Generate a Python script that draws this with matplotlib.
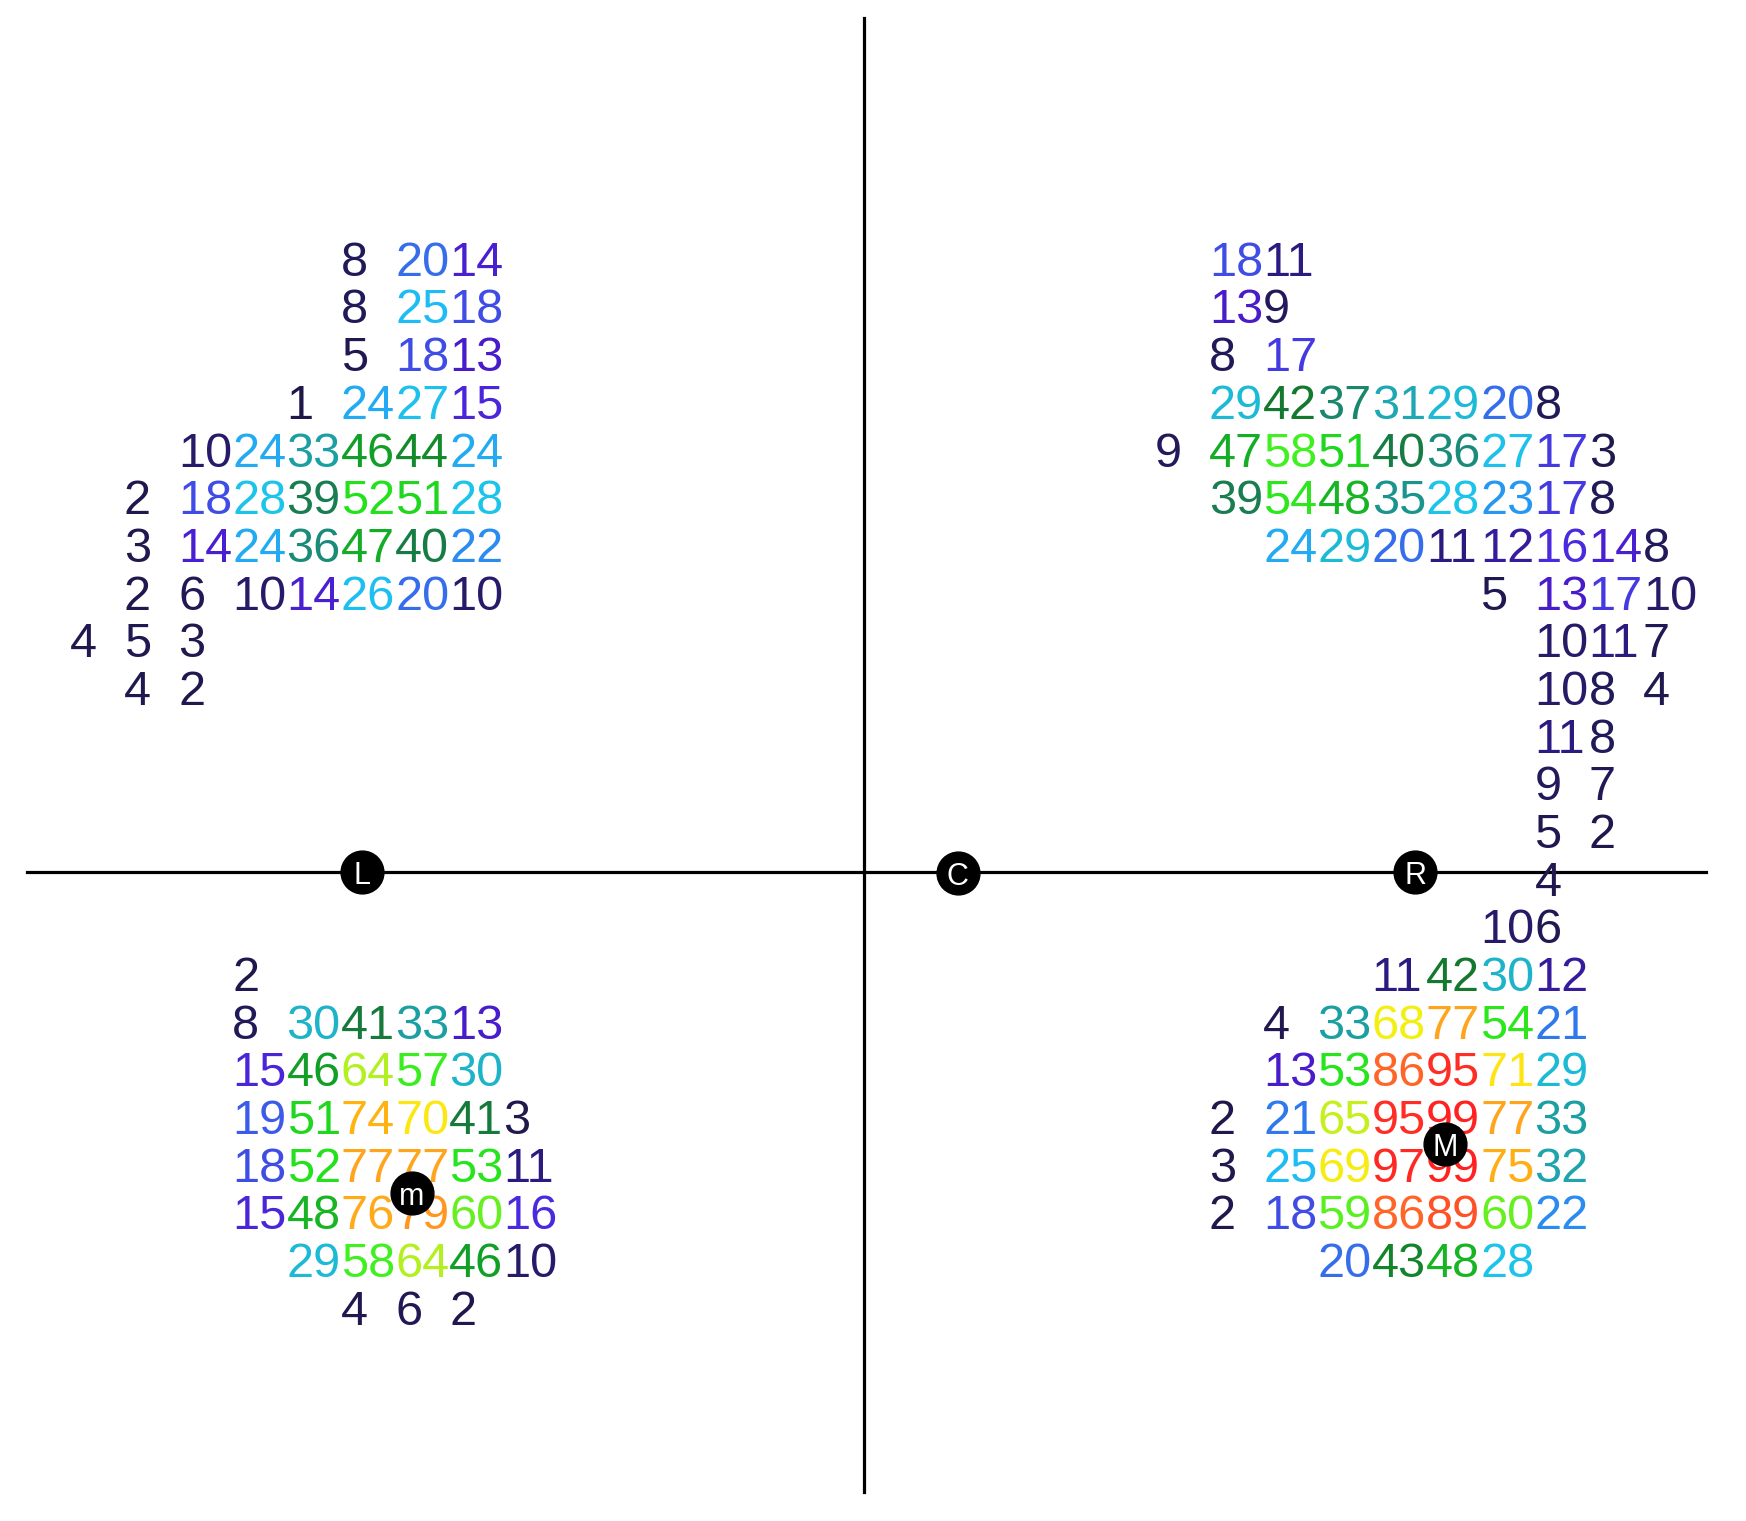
import matplotlib
matplotlib.use('Agg')
import matplotlib.pyplot as plt
from matplotlib.colors import LinearSegmentedColormap, Normalize

# ---- data: each segment = (row index, first column index, consecutive cell counts)
seg_rows = [0, 1, 2, 3, 4, 5, 6, 7, 8, 9,
            0, 1, 2, 3, 4, 5, 6, 7, 8, 9, 10, 11, 12, 13, 14, 15, 16, 17, 18, 19, 20, 21,
            15, 16, 17, 18, 19, 20, 21, 22]
seg_cols = [5, 5, 5, 4, 2, 1, 1, 1, 0, 1,
            21, 21, 21, 21, 20, 21, 22, 26, 27, 27, 27, 27, 27, 27, 26, 24, 22, 22, 21, 21, 21, 23,
            3, 3, 3, 3, 3, 3, 4, 5]
seg_values = [
    [8, 20, 14],
    [8, 25, 18],
    [5, 18, 13],
    [1, 24, 27, 15],
    [10, 24, 33, 46, 44, 24],
    [2, 18, 28, 39, 52, 51, 28],
    [3, 14, 24, 36, 47, 40, 22],
    [2, 6, 10, 14, 26, 20, 10],
    [4, 5, 3],
    [4, 2],
    # right
    [18, 11],
    [13, 9],
    [8, 17],
    [29, 42, 37, 31, 29, 20, 8],
    [9, 47, 58, 51, 40, 36, 27, 17, 3],
    [39, 54, 48, 35, 28, 23, 17, 8],
    [24, 29, 20, 11, 12, 16, 14, 8],
    [5, 13, 17, 10],
    [10, 11, 7],
    [10, 8, 4],
    [11, 8],
    [9, 7],
    [5, 2],
    [4],
    [10, 6],
    [11, 42, 30, 12],
    [4, 33, 68, 77, 54, 21],
    [13, 53, 86, 95, 71, 29],
    [2, 21, 65, 95, 99, 77, 33],
    [3, 25, 69, 97, 99, 75, 32],
    [2, 18, 59, 86, 89, 60, 22],
    [20, 43, 48, 28],
    # bottom left
    [2],
    [8, 30, 41, 33, 13],
    [15, 46, 64, 57, 30],
    [19, 51, 74, 70, 41, 3],
    [18, 52, 77, 77, 53, 11],
    [15, 48, 76, 79, 60, 16],
    [29, 58, 64, 46, 10],
    [4, 6, 2],
]

ref_labels = ['L', 'C', 'R', 'm', 'M']
ref_x = [5.40, 16.37, 24.80, 6.31, 25.36]
ref_y = [12.88, 12.90, 12.88, 19.61, 18.58]

axis_h = 12.88
axis_v = 14.65
plot_x = (-0.79, 30.17)
plot_y = (-5.03, 25.87)

# ---- colour scale
stops = [(0.00, '#1e1848'), (0.09, '#221a5a'), (0.11, '#2c1a80'), (0.13, '#4a1ccc'),
         (0.16, '#4a2ae0'), (0.19, '#3a5ee8'), (0.22, '#2a8cf0'), (0.25, '#1ebcf4'),
         (0.28, '#1cc4e8'), (0.31, '#1ea8b4'), (0.34, '#1a9a9a'), (0.38, '#1a7e5a'),
         (0.42, '#14782e'), (0.46, '#12a028'), (0.52, '#22e21c'), (0.58, '#40f020'),
         (0.64, '#b4f020'), (0.68, '#f2f010'), (0.71, '#ffe414'), (0.74, '#ffb410'),
         (0.78, '#ffa020'), (0.82, '#ff8020'), (0.87, '#ff6028'), (0.93, '#ff3424'),
         (1.00, '#ff2020')]
cmap = LinearSegmentedColormap.from_list('counts', stops)
norm = Normalize(0, 100)

fig = plt.figure(figsize=(17.46, 15.21), dpi=100)
ax = fig.add_axes([0, 0, 1, 1])
ax.set_xlim(-1.281, 30.90)
ax.set_ylim(26.48, -5.416)
ax.axis('off')

ax.plot(plot_x, [axis_h, axis_h], color='black', lw=2.3, zorder=1)
ax.plot([axis_v, axis_v], plot_y, color='black', lw=2.3, zorder=1)

for r, c0, vals in zip(seg_rows, seg_cols, seg_values):
    for i, v in enumerate(vals):
        ax.text(c0 + i, r, str(v), ha='left', va='center_baseline',
                fontsize=35, family='Liberation Sans', color=cmap(norm(v)), zorder=2)

ax.scatter(ref_x, ref_y, s=950, color='black', zorder=3)
for lab, x, y in zip(ref_labels, ref_x, ref_y):
    ax.text(x, y, lab, ha='center', va='center_baseline', color='white',
            fontsize=22, family='Liberation Sans', zorder=4)

fig.savefig('out.png', dpi=100)
